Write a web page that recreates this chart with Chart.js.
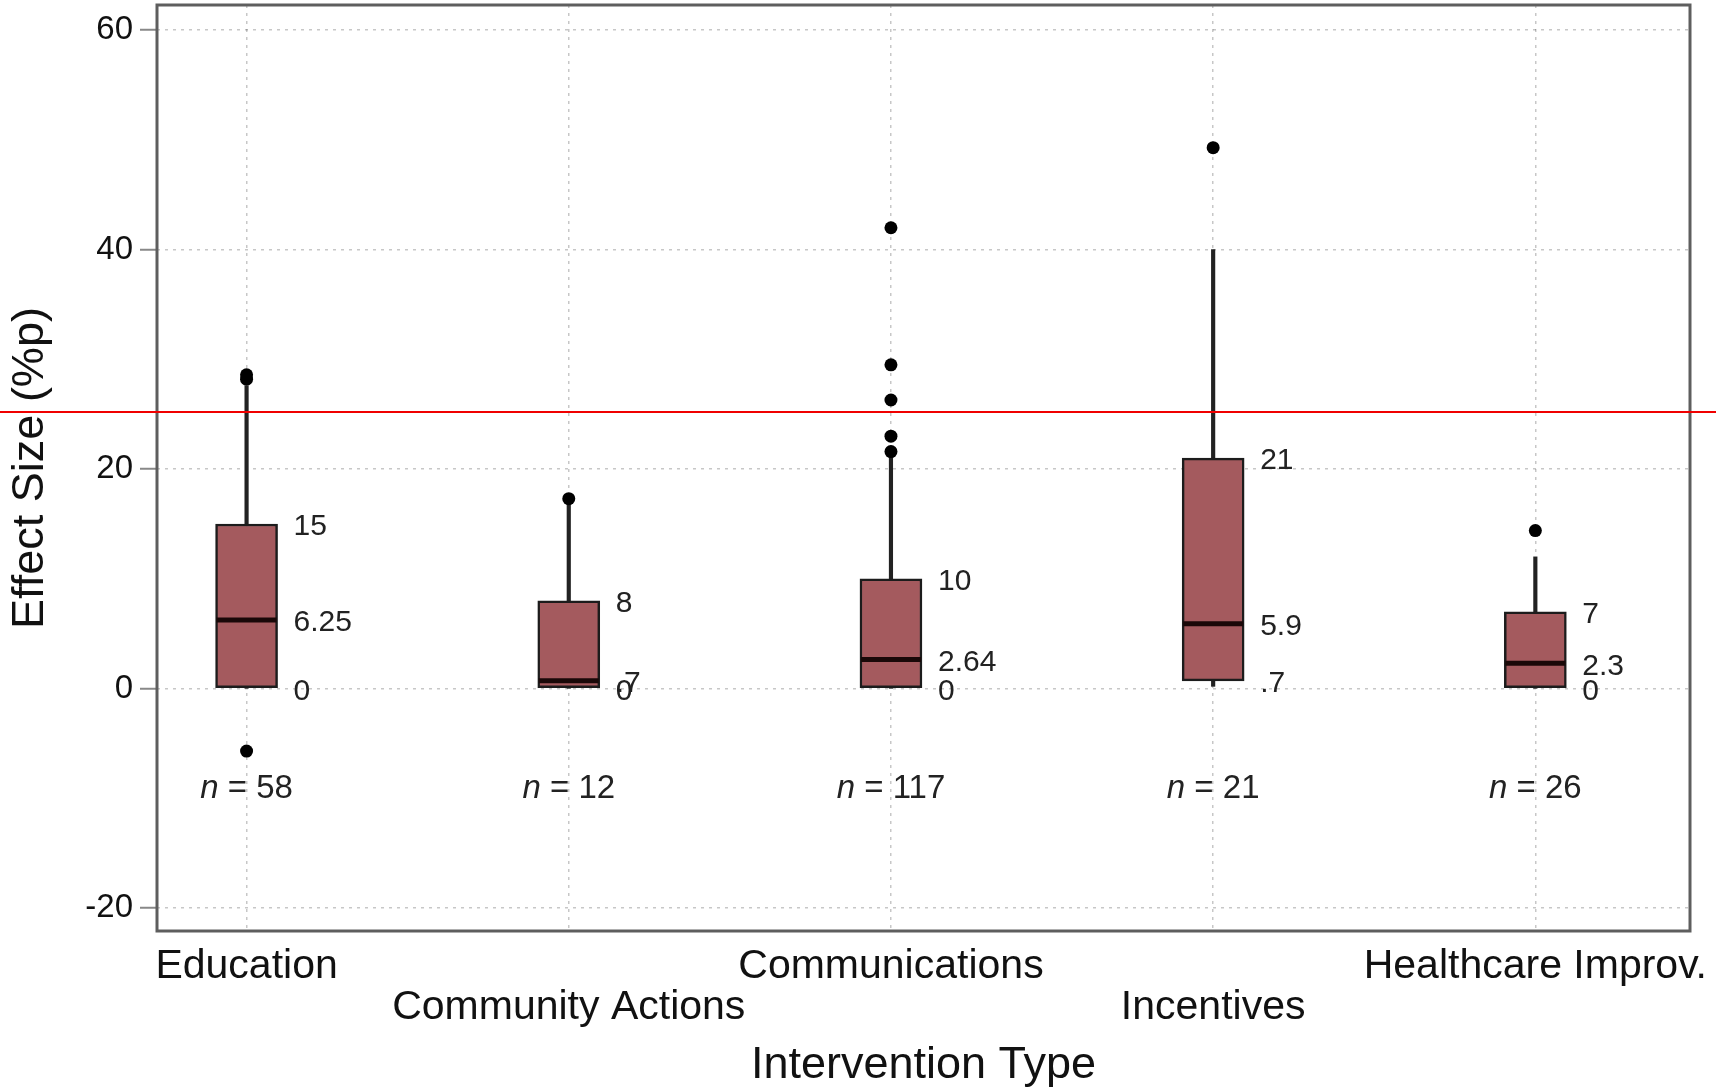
<!DOCTYPE html>
<html>
<head>
<meta charset="utf-8">
<script src="https://cdn.jsdelivr.net/npm/chart.js@4.4.0/dist/chart.umd.min.js"></script>
<style>
  html, body { margin: 0; padding: 0; background: #fff; }
  #wrap { width: 1716px; height: 1088px; position: relative; }
</style>
</head>
<body>
<div id="wrap"><canvas id="boxChart"></canvas></div>
<script>
// values
const categories = ['Education', 'Community Actions', 'Communications', 'Incentives', 'Healthcare Improv.'];
const q1 = [0, 0, 0, 0.7, 0];
const medians = [6.25, 0.7, 2.64, 5.9, 2.3];
const q3 = [15, 8, 10, 21, 7];
const whiskerLow = [0, 0, 0, 0.2, 0];
const whiskerHigh = [27.6, 17.3, 21.5, 40, 12];
const outliers = [[28.2, 28.6, -5.7], [17.3], [21.6, 23.0, 26.3, 29.5, 42.0], [49.3], [14.4]];
const counts = [58, 12, 117, 21, 26];
const boxLabels = [['15', '6.25', '0'], ['8', '0', '.7'], ['10', '2.64', '0'], ['21', '5.9', '.7'], ['7', '2.3', '0']];
const yTicks = [-20, 0, 20, 40, 60];
const refLine = 25.2;
const nLabelY = -8.9;

const FONT = '"Liberation Sans", Arial, sans-serif';

const idx = categories.map((c, i) => i);

const whitebg = {
    id: 'whitebg',
    beforeDraw(chart) {
        const ctx = chart.ctx;
        ctx.save();
        ctx.fillStyle = '#fff';
        ctx.fillRect(0, 0, chart.width, chart.height);
        ctx.restore();
    }
};

const annotations = {
    id: 'annotations',
    afterDatasetsDraw(chart) {
        const { ctx, chartArea: a } = chart;
        const x = chart.scales.x, y = chart.scales.y;
        ctx.save();
        ctx.fillStyle = '#222';
        ctx.textBaseline = 'middle';
        ctx.textAlign = 'left';
        // numbers next to each box
        ctx.font = '30px ' + FONT;
        boxLabels.forEach((labels, i) => {
            const px = x.getPixelForValue(i) + 47;
            labels.forEach(t => ctx.fillText(t, px, y.getPixelForValue(parseFloat(t)) + 3));
        });
        // n = ... under each box
        counts.forEach((n, i) => {
            const cx = x.getPixelForValue(i);
            const cy = y.getPixelForValue(nLabelY) + 3;
            ctx.font = 'italic 33px ' + FONT;
            const wa = ctx.measureText('n').width;
            ctx.font = '33px ' + FONT;
            const rest = ' = ' + n;
            const wb = ctx.measureText(rest).width;
            const start = cx - (wa + wb) / 2;
            ctx.font = 'italic 33px ' + FONT;
            ctx.fillText('n', start, cy);
            ctx.font = '33px ' + FONT;
            ctx.fillText(rest, start + wa, cy);
        });
        // frame
        ctx.strokeStyle = '#5e5e5e';
        ctx.lineWidth = 3;
        ctx.strokeRect(a.left, a.top, a.right - a.left, a.bottom - a.top);
        ctx.restore();
    },
    afterDraw(chart) {
        const { ctx } = chart;
        const py = chart.scales.y.getPixelForValue(refLine);
        ctx.save();
        ctx.strokeStyle = '#f00000';
        ctx.lineWidth = 2;
        ctx.beginPath();
        ctx.moveTo(0, py);
        ctx.lineTo(chart.width, py);
        ctx.stroke();
        ctx.restore();
    }
};

const config = {
    type: 'bar',
    data: {
        datasets: [
            {
                type: 'scatter',
                label: 'outliers',
                data: outliers.flatMap((arr, i) => arr.map(v => ({ x: i, y: v }))),
                pointRadius: 6.5,
                pointBackgroundColor: '#000',
                pointBorderWidth: 0,
                order: 1
            },
            {
                type: 'scatter',
                label: 'median',
                data: idx.map(i => ({ x: i, y: medians[i] })),
                pointStyle: 'line',
                pointRadius: 30,
                pointBorderWidth: 5,
                pointBorderColor: '#1a0808',
                order: 2
            },
            {
                label: 'box',
                data: idx.map(i => ({ x: i, y: [q1[i], q3[i]] })),
                backgroundColor: '#a45a5e',
                borderColor: '#1c1c1c',
                borderWidth: 2.5,
                borderSkipped: false,
                barThickness: 62,
                grouped: false,
                order: 3
            },
            {
                label: 'whisker high',
                data: idx.map(i => ({ x: i, y: [q3[i], whiskerHigh[i]] })),
                backgroundColor: '#222',
                borderWidth: 0,
                barThickness: 3.5,
                grouped: false,
                order: 4
            },
            {
                label: 'whisker low',
                data: idx.map(i => ({ x: i, y: [whiskerLow[i], q1[i]] })),
                backgroundColor: '#222',
                borderWidth: 0,
                barThickness: 3.5,
                grouped: false,
                order: 4
            }
        ]
    },
    options: {
        responsive: true,
        maintainAspectRatio: false,
        animation: false,
        layout: { autoPadding: false, padding: { left: 0, top: 5, right: 26, bottom: 0 } },
        plugins: {
            legend: { display: false },
            tooltip: { enabled: false }
        },
        scales: {
            x: {
                type: 'linear',
                offset: false,
                min: -0.278,
                max: 4.48,
                afterBuildTicks: s => { s.ticks = idx.map(v => ({ value: v })); },
                afterFit: s => { s.height = 157; s.paddingLeft = 0; s.paddingRight = 0; },
                ticks: {
                    autoSkip: false,
                    maxRotation: 0,
                    padding: 15.5,
                    color: '#111',
                    font: { family: FONT, size: 41, lineHeight: 1.0 },
                    callback: (v, i) => i % 2 ? ['', categories[i]] : categories[i]
                },
                grid: { offset: false, color: 'rgba(0,0,0,0.22)', lineWidth: 1.5, drawTicks: false },
                border: { display: false, dash: [3, 5] },
                title: {
                    display: true,
                    text: 'Intervention Type',
                    color: '#111',
                    font: { family: FONT, size: 45, lineHeight: 1 },
                    padding: { top: 0, bottom: 0 }
                }
            },
            y: {
                min: -22.1,
                max: 62.3,
                afterBuildTicks: s => { s.ticks = yTicks.map(v => ({ value: v })); },
                afterFit: s => { s.width = 157; s.paddingTop = 0; s.paddingBottom = 0; },
                ticks: {
                    padding: 7,
                    color: '#111',
                    font: { family: FONT, size: 33 }
                },
                grid: {
                    color: 'rgba(0,0,0,0.22)',
                    lineWidth: 1.5,
                    tickLength: 17,
                    tickColor: '#888',
                    tickWidth: 2
                },
                border: { display: false, dash: [3, 5] },
                title: {
                    display: true,
                    text: 'Effect Size (%p)',
                    color: '#111',
                    font: { family: FONT, size: 45, lineHeight: 1 },
                    padding: { top: 8, bottom: 0 }
                }
            }
        }
    },
    plugins: [whitebg, annotations]
};

new Chart(document.getElementById('boxChart'), config);
</script>
</body>
</html>
